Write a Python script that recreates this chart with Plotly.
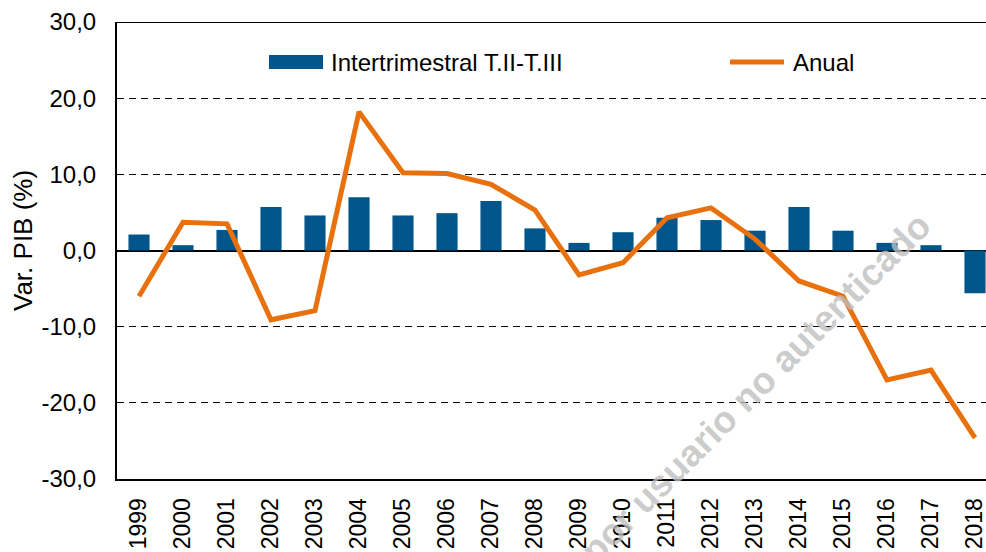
import plotly.graph_objects as go

YEARS = [str(y) for y in range(1999, 2019)]

# Variación intertrimestral T.II-T.III (%)
INTERTRIM = [2.1, 0.7, 2.7, 5.7, 4.6, 7.0, 4.6, 4.9, 6.5, 2.9,
             1.0, 2.4, 4.3, 4.0, 2.6, 5.7, 2.6, 1.0, 0.7, -5.6]

# Variación anual (%)
ANUAL = [-6.0, 3.7, 3.5, -9.1, -7.9, 18.2, 10.2, 10.1, 8.7, 5.3,
         -3.2, -1.6, 4.3, 5.6, 1.5, -4.0, -6.0, -17.0, -15.7, -24.6]

Y_TICKVALS = [-30, -20, -10, 0, 10, 20, 30]
Y_TICKTEXT = ["-30,0", "-20,0", "-10,0", "0,0", "10,0", "20,0", "30,0"]

BLUE = "#00568A"
ORANGE = "#E8710E"
FONT = "Liberation Sans, Arial, sans-serif"

W, H = 986, 552
L, R, T, B = 117, 0, 22, 73


def px_x(x):
    # pixel -> paper x (plot domain)
    return (x - L) / (W - L - R)


def px_y(y):
    # pixel -> paper y (plot domain)
    return (H - B - y) / (H - T - B)


fig = go.Figure()

fig.add_trace(
    go.Bar(
        x=YEARS,
        y=INTERTRIM,
        name="Intertrimestral T.II-T.III",
        marker={"color": BLUE, "line": {"width": 0}},
        width=0.48,
    )
)

fig.add_trace(
    go.Scatter(
        x=YEARS,
        y=ANUAL,
        mode="lines",
        name="Anual",
        line={"color": ORANGE, "width": 5},
    )
)

# top border of the plot box
fig.add_shape(
    type="line", xref="paper", yref="y",
    x0=0, x1=1, y0=30, y1=30,
    line={"color": "black", "width": 2},
)

# legend drawn by hand (wide swatches like the original)
fig.add_shape(
    type="rect", xref="paper", yref="paper",
    x0=px_x(269), x1=px_x(323), y0=px_y(69), y1=px_y(55),
    fillcolor=BLUE, line={"width": 0},
)
fig.add_annotation(
    text="Intertrimestral T.II-T.III", xref="paper", yref="paper",
    x=px_x(329), y=px_y(62), xanchor="left", yanchor="middle",
    showarrow=False, font={"size": 24},
)
fig.add_shape(
    type="line", xref="paper", yref="paper",
    x0=px_x(730), x1=px_x(784), y0=px_y(62), y1=px_y(62),
    line={"color": ORANGE, "width": 5},
)
fig.add_annotation(
    text="Anual", xref="paper", yref="paper",
    x=px_x(791), y=px_y(62), xanchor="left", yanchor="middle",
    showarrow=False, font={"size": 24},
)

# y axis title
fig.add_annotation(
    text="Var. PIB (%)", xref="paper", yref="paper",
    x=px_x(23), y=px_y(241), xanchor="center", yanchor="middle",
    textangle=-90, showarrow=False, font={"size": 26},
)

# watermark
fig.add_annotation(
    text="por usuario no autenticado",
    xref="paper", yref="paper",
    x=px_x(755), y=px_y(388),
    xanchor="center", yanchor="middle",
    showarrow=False,
    textangle=-45,
    font={"family": FONT, "size": 37, "color": "rgba(190,190,190,0.8)", "weight": "bold"},
)

fig.update_layout(
    width=W,
    height=H,
    margin={"l": L, "r": R, "t": T, "b": B, "autoexpand": False},
    paper_bgcolor="white",
    plot_bgcolor="white",
    font={"family": FONT, "color": "black"},
    showlegend=False,
    xaxis={
        "type": "category",
        "range": [-0.5, 19.25],
        "automargin": False,
        "showgrid": False,
        "showline": True,
        "linecolor": "black",
        "linewidth": 2,
        "tickangle": -90,
        "tickfont": {"size": 23},
        "ticks": "",
        "ticklabelstandoff": 8,
    },
    yaxis={
        "range": [-30, 30],
        "tickvals": Y_TICKVALS,
        "ticktext": Y_TICKTEXT,
        "automargin": False,
        "showgrid": True,
        "gridcolor": "black",
        "gridwidth": 1,
        "griddash": "7px,5px",
        "zeroline": True,
        "zerolinecolor": "black",
        "zerolinewidth": 1.5,
        "showline": True,
        "linecolor": "black",
        "linewidth": 2,
        "ticks": "",
        "tickfont": {"size": 24},
        "ticklabelstandoff": 14,
    },
)

fig.write_html(
    "out.html",
    config={"displayModeBar": False},
    post_script="document.body.style.margin='0';document.body.style.overflow='hidden';",
)
